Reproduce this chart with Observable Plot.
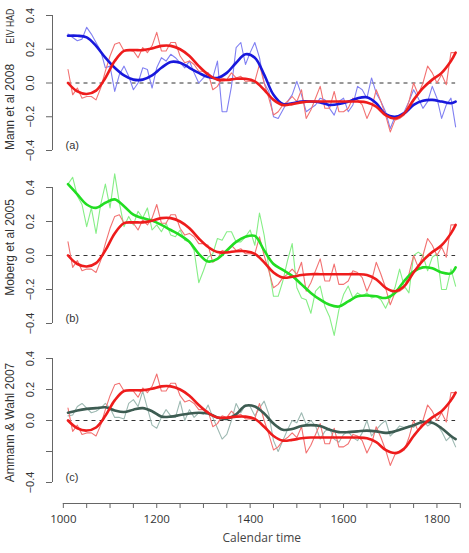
<!DOCTYPE html>
<html><head><meta charset="utf-8">
<script src="https://cdn.jsdelivr.net/npm/d3@7"></script>
<script src="https://cdn.jsdelivr.net/npm/@observablehq/plot@0.6"></script>
<style>
body{margin:0;background:#fff;}
#wrap{position:relative;width:469px;height:553px;overflow:hidden;background:#fff;}
#wrap > div{position:absolute;left:0;width:469px;}
svg{overflow:visible;}
</style></head><body><div id="wrap"></div>
<script>
// ---------- data ----------
const years = [1010,1020,1030,1040,1050,1060,1070,1080,1090,1100,1110,1120,1130,1140,1150,1160,1170,1180,1190,1200,
1210,1220,1230,1240,1250,1260,1270,1280,1290,1300,1310,1320,1330,1340,1350,1360,1370,1380,1390,1400,
1410,1420,1430,1440,1450,1460,1470,1480,1490,1500,1510,1520,1530,1540,1550,1560,1570,1580,1590,1600,
1610,1620,1630,1640,1650,1660,1670,1680,1690,1700,1710,1720,1730,1740,1750,1760,1770,1780,1790,1800,
1810,1820,1830,1840];

const hadThin = [0.08,-0.07,-0.03,-0.09,-0.08,-0.08,-0.10,-0.03,0.07,0.16,0.23,0.24,0.19,0.19,0.19,0.15,0.21,0.18,0.22,0.30,
0.19,0.19,0.24,0.24,0.16,0.12,0.13,0.11,0.07,0.07,0.06,-0.04,-0.02,0.03,0.02,0.06,0.03,0.04,0.01,0.01,
0.01,0.11,0.00,-0.09,-0.19,-0.17,-0.13,-0.11,-0.08,-0.11,-0.04,-0.21,-0.16,-0.09,-0.02,-0.15,-0.15,-0.05,-0.17,-0.17,
-0.15,-0.09,-0.10,-0.13,-0.21,-0.15,-0.04,-0.11,-0.19,-0.29,-0.22,-0.21,-0.19,-0.11,0.00,-0.07,0.00,0.10,0.06,0.00,
0.05,-0.01,0.18,0.18];

const mannThin = [0.29,0.27,0.25,0.26,0.33,0.29,0.24,0.19,0.09,0.10,-0.05,0.05,0.10,0.04,-0.04,0.00,0.09,0.08,-0.03,0.09,
0.15,0.13,0.17,0.15,0.12,0.09,0.13,0.06,0.00,0.03,0.06,0.03,0.13,-0.17,-0.17,-0.02,0.21,0.24,0.11,0.18,
0.24,0.15,0.00,-0.05,-0.20,-0.21,-0.16,-0.11,-0.07,0.01,-0.07,-0.17,-0.15,-0.13,-0.09,-0.10,-0.15,-0.19,-0.11,-0.09,
-0.17,-0.13,-0.02,-0.04,-0.09,0.03,-0.06,-0.11,-0.17,-0.27,-0.20,-0.19,-0.17,-0.11,-0.04,-0.09,-0.15,-0.11,-0.02,-0.09,
-0.21,-0.13,-0.09,-0.26];

const mobergThin = [0.42,0.46,0.35,0.30,0.17,0.28,0.13,0.30,0.42,0.28,0.48,0.31,0.17,0.23,0.18,0.26,0.22,0.28,0.15,0.18,
0.14,0.19,0.12,0.11,0.15,0.09,0.08,0.03,-0.16,-0.09,-0.01,0.01,0.10,0.09,0.14,0.14,0.08,0.08,0.11,0.15,
0.06,0.25,0.12,-0.07,-0.24,-0.24,-0.15,-0.03,0.07,-0.19,-0.25,-0.26,-0.34,-0.21,-0.18,-0.30,-0.36,-0.47,-0.32,-0.23,
-0.18,-0.25,-0.22,-0.24,-0.22,-0.25,-0.24,-0.26,-0.31,-0.25,-0.19,-0.08,-0.18,-0.22,0.00,0.02,0.00,-0.09,-0.01,0.01,
-0.20,-0.20,-0.08,-0.18];

const ammannThin = [0.03,0.035,0.09,0.11,0.08,0.05,0.06,0.08,0.11,0.08,0.02,0.02,0.01,0.11,0.135,0.09,0.19,0.08,-0.03,-0.05,
0.02,0.07,0.03,0.02,0.125,0.00,0.07,0.02,0.05,0.04,0.10,0.02,-0.05,-0.12,-0.09,0.00,0.11,0.05,0.10,0.09,
0.03,0.08,0.125,0.04,-0.13,-0.20,-0.13,-0.06,0.00,-0.015,0.05,-0.025,0.00,-0.035,-0.12,-0.07,-0.05,-0.12,-0.14,-0.09,
-0.07,-0.11,-0.13,-0.08,0.00,-0.10,-0.06,-0.025,0.00,-0.10,-0.07,-0.035,-0.045,-0.035,-0.045,-0.015,0.00,-0.035,-0.015,-0.025,
-0.07,-0.13,-0.10,-0.17];

const smoothYears = [1010,1030,1050,1070,1090,1110,1130,1150,1170,1190,1210,1230,1250,1270,1290,1310,1330,1350,1370,1390,
1410,1430,1450,1470,1490,1510,1530,1550,1570,1590,1610,1630,1650,1670,1690,1710,1730,1750,1770,1790,1810,1830,1840];

const hadSmooth = [0.00,-0.05,-0.065,-0.045,0.03,0.13,0.19,0.195,0.195,0.205,0.22,0.22,0.20,0.16,0.10,0.05,0.02,0.018,0.025,0.025,
0.01,-0.04,-0.10,-0.13,-0.125,-0.115,-0.11,-0.11,-0.11,-0.11,-0.11,-0.11,-0.115,-0.14,-0.19,-0.21,-0.18,-0.10,-0.03,0.02,
0.06,0.13,0.18];

const mannSmooth = [0.28,0.28,0.27,0.22,0.15,0.09,0.045,0.02,0.02,0.045,0.09,0.125,0.12,0.09,0.06,0.035,0.03,0.06,0.12,0.17,
0.15,0.05,-0.07,-0.125,-0.12,-0.11,-0.11,-0.115,-0.13,-0.125,-0.11,-0.09,-0.085,-0.12,-0.185,-0.20,-0.18,-0.13,-0.105,-0.10,
-0.11,-0.12,-0.11];

const mobergSmooth = [0.42,0.36,0.30,0.28,0.31,0.33,0.29,0.24,0.22,0.205,0.18,0.15,0.12,0.08,0.01,-0.035,-0.02,0.03,0.08,0.11,
0.115,0.03,-0.05,-0.085,-0.12,-0.17,-0.22,-0.26,-0.29,-0.30,-0.27,-0.24,-0.235,-0.24,-0.25,-0.22,-0.15,-0.095,-0.07,-0.075,
-0.10,-0.105,-0.07];

const ammannSmooth = [0.05,0.065,0.075,0.08,0.085,0.065,0.055,0.07,0.08,0.06,0.025,0.025,0.035,0.045,0.05,0.045,0.02,0.01,0.04,0.095,
0.09,0.045,-0.02,-0.06,-0.055,-0.035,-0.03,-0.035,-0.06,-0.075,-0.075,-0.07,-0.065,-0.07,-0.08,-0.07,-0.05,-0.03,-0.01,-0.015,
-0.05,-0.10,-0.12];

const yTicks = [-0.4,-0.2,0,0.2,0.4];
const xTicks = [1000,1050,1100,1150,1200,1250,1300,1350,1400,1450,1500,1550,1600,1650,1700,1750,1800,1850];
const xTickLabels = [1000,1200,1400,1600,1800];
const panelTitles = [["Mann et al 2008", "EIV HAD"], ["Moberg et al 2005"], ["Ammann & Wahl 2007"]];
const panelTags = ["(a)", "(b)", "(c)"];
const xTitle = "Calendar time";

// ---------- helpers ----------
const toRows = (xs, vs) => xs.map((x, i) => ({year: x, v: vs[i]}));
const xDomain = [976.8, 1869.7];
const fmt = d => d === 0 ? "0.0" : (d < 0 ? "\u2212" : "") + Math.abs(d).toFixed(1);

const panels = [
  {top: 0, height: 170, mt: 15, mb: 20, thin: mannThin, smooth: mannSmooth, thinColor: "#8080f2", thickColor: "#1818dc",
   titleY: [-0.142, 0.337], titleSize: [12, 10.5], titleLen: [null, 35], hideLabel: []},
  {top: 170, height: 170, mt: 17, mb: 17, thin: mobergThin, smooth: mobergSmooth, thinColor: "#86ee86", thickColor: "#22dd22",
   titleY: [0.047], titleSize: [12], titleLen: [null], hideLabel: []},
  {top: 340, height: 160, mt: 18, mb: 18, thin: ammannThin, smooth: ammannSmooth, thinColor: "#9db9b2", thickColor: "#3d5c52",
   titleY: [-0.013], titleSize: [12], titleLen: [null], hideLabel: [-0.2]}
];

const wrap = document.getElementById("wrap");
const redThin = "#f27272", redThick = "#ee1c1c";

panels.forEach((p, i) => {
  const labels = yTicks.filter(t => !p.hideLabel.includes(t));
  const titleMarks = panelTitles[i].map((t, k) =>
    Plot.text([t], {y: () => p.titleY[k], text: d => d, frameAnchor: "left", textAnchor: "middle", dx: -42, rotate: -90,
      fontSize: p.titleSize[k], fill: "#333"}));
  const chart = Plot.plot({
    width: 469, height: p.height,
    marginLeft: 52, marginRight: 0, marginTop: p.mt, marginBottom: p.mb,
    x: {domain: xDomain, axis: null},
    y: {domain: [-0.4, 0.4], axis: null},
    style: {fontFamily: "'Liberation Sans', Arial, sans-serif", background: "transparent"},
    marks: [
      Plot.ruleY([0], {x1: years[0], x2: years[years.length - 1], stroke: "#333", strokeWidth: 1, strokeDasharray: "4,4"}),
      Plot.line(toRows(years, p.thin), {x: "year", y: "v", stroke: p.thinColor, strokeWidth: 1.1}),
      Plot.line(toRows(years, hadThin), {x: "year", y: "v", stroke: redThin, strokeWidth: 1.1}),
      Plot.line(toRows(smoothYears, p.smooth), {x: "year", y: "v", stroke: p.thickColor, strokeWidth: 2.6, curve: "catmull-rom"}),
      Plot.line(toRows(smoothYears, hadSmooth), {x: "year", y: "v", stroke: redThick, strokeWidth: 2.6, curve: "catmull-rom"}),
      Plot.ruleX([xDomain[0]], {y1: -0.4, y2: 0.4, stroke: "#666", strokeWidth: 1}),
      Plot.axisY({ticks: yTicks, tickSize: 6, tickFormat: () => "", stroke: "#666", label: null}),
      Plot.text(labels, {y: d => d, text: fmt, frameAnchor: "left", textAnchor: "middle", dx: -22, rotate: -90, fontSize: 11, fill: "#333"}),
      ...titleMarks,
      Plot.text([panelTags[i]], {text: d => d, frameAnchor: "bottom-left", dx: 13, dy: -2, textAnchor: "start", fontSize: 11, fill: "#333"})
    ]
  });
  // condense the narrow second title part where needed
  chart.querySelectorAll("text").forEach(el => {
    panelTitles[i].forEach((t, k) => {
      if (p.titleLen[k] && el.textContent === t) {
        el.setAttribute("textLength", p.titleLen[k]);
        el.setAttribute("lengthAdjust", "spacingAndGlyphs");
      }
    });
  });
  const div = document.createElement("div");
  div.style.top = p.top + "px";
  div.appendChild(chart);
  wrap.appendChild(div);
});

// x axis
const xAxis = Plot.plot({
  width: 469, height: 63,
  marginLeft: 52, marginRight: 0, marginTop: 0, marginBottom: 50,
  x: {domain: xDomain},
  y: {domain: [0, 1], axis: null},
  style: {fontFamily: "'Open Sans', 'Liberation Sans', sans-serif", background: "transparent"},
  marks: [
    Plot.ruleY([0], {x1: xTicks[0], x2: xTicks[xTicks.length - 1], stroke: "#666"}),
    Plot.axisX({ticks: xTicks, tickSize: 5, tickPadding: 6, stroke: "#666", fill: "#333", fontSize: 11.5, label: null,
      tickFormat: d => xTickLabels.includes(d) ? String(d) : ""}),
    Plot.text([xTitle], {x: () => (years[0] + years[years.length - 1]) / 2, text: d => d, frameAnchor: "bottom", dy: 38, fontSize: 12, fill: "#444"})
  ]
});
const xdiv = document.createElement("div");
xdiv.style.top = "490px";
xdiv.appendChild(xAxis);
wrap.appendChild(xdiv);
</script>
</body></html>
